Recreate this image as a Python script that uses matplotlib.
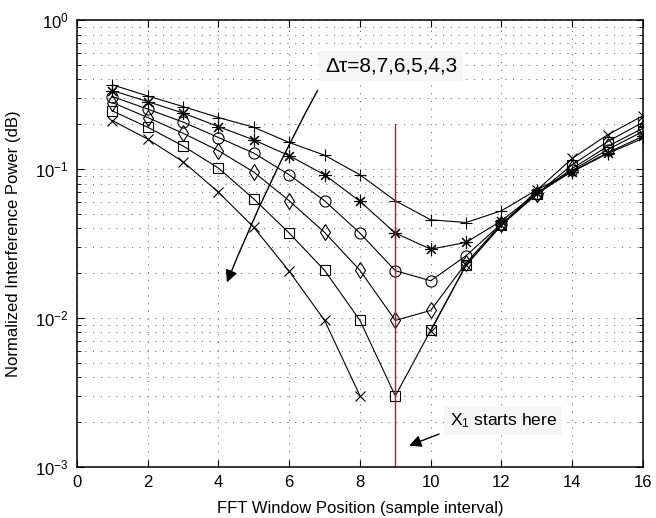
import numpy as np
import matplotlib
matplotlib.use("Agg")
import matplotlib.pyplot as plt

plt.rcParams['font.family'] = ['Liberation Sans', 'DejaVu Sans']
plt.rcParams['mathtext.default'] = 'regular'

# FFT window positions
pos = np.arange(1, 17)

# normalized interference power, one list per delta tau
p_dt8 = [0.368, 0.31, 0.263, 0.222, 0.191, 0.151, 0.124, 0.0916, 0.0613, 0.0457,
         0.0438, 0.0525, 0.0726, 0.096, 0.127, 0.161]
p_dt7 = [0.337, 0.284, 0.238, 0.193, 0.157, 0.123, 0.0916, 0.0608, 0.0372, 0.029,
         0.0322, 0.045, 0.069, 0.0963, 0.129, 0.166]
p_dt6 = [0.307, 0.253, 0.207, 0.163, 0.128, 0.0916, 0.0613, 0.0372, 0.0208, 0.0178,
         0.0262, 0.043, 0.068, 0.098, 0.135, 0.179]
p_dt5 = [0.280, 0.222, 0.174, 0.133, 0.0955, 0.0613, 0.0376, 0.0209, 0.00964, 0.01125,
         0.0234, 0.043, 0.068, 0.101, 0.142, 0.188]
p_dt4 = [0.246, 0.191, 0.143, 0.1016, 0.063, 0.0372, 0.0209, 0.00964, 0.0030, 0.00826,
         0.0228, 0.042, 0.068, 0.107, 0.153, 0.206]
p_dt3 = [0.212, 0.159, 0.112, 0.070, 0.0406, 0.0206, 0.00964, 0.00301, np.nan, 0.0082,
         0.0226, 0.042, 0.072, 0.118, 0.17, 0.228]

series = [p_dt8, p_dt7, p_dt6, p_dt5, p_dt4, p_dt3]
markers = ['+', (8, 2, 0), 'o', 'd', 's', 'x']
msizes = [9, 9, 8, 8, 7, 7]

# red marker line: X1 start position
x1_pos = 9
x1_span = [0.001, 0.2]

fig = plt.figure(figsize=(6.56, 5.18), dpi=100)
ax = fig.add_axes([0.1174, 0.0985, 0.8626, 0.8625])

for vals, m, ms in zip(series, markers, msizes):
    ax.plot(pos, vals, color='k', linewidth=0.8, marker=m, markersize=ms,
            markerfacecolor='none', markeredgecolor='k', markeredgewidth=0.8)

ax.plot([x1_pos, x1_pos], x1_span, color='red', linewidth=1.0)

ax.set_yscale('log')
ax.set_xlim(0, 16)
ax.set_ylim(1e-3, 1)
ax.set_xticks(np.arange(0, 17, 2))

ax.grid(True, which='major', axis='both', color='0.35', linestyle=(0, (1, 7)), linewidth=0.7)
ax.grid(True, which='minor', axis='y', color='0.35', linestyle=(0, (1, 7)), linewidth=0.7)
ax.tick_params(which='both', direction='in', top=True, right=True, labelsize=12)
ax.tick_params(which='major', length=5, pad=6)
ax.tick_params(which='minor', length=3)
for s in ax.spines.values():
    s.set_linewidth(1.1)

ax.set_xlabel('FFT Window Position (sample interval)', fontsize=12, labelpad=8)
ax.set_ylabel('Normalized Interference Power (dB)', fontsize=12, labelpad=10)

# delta tau annotation
ax.text(8.88, 0.49, '\u0394\u03c4=8,7,6,5,4,3', fontsize=15, ha='center', va='center',
        bbox=dict(facecolor='0.965', edgecolor='none', pad=4))
ax.annotate('', xy=(4.21, 0.0167), xytext=(6.84, 0.351),
            arrowprops=dict(arrowstyle='-|>', color='k', lw=1.0,
                            mutation_scale=18, connectionstyle='arc3,rad=0.03'))

# X1 annotation
ax.text(12.05, 0.00205, '$X_1$ starts here', fontsize=12.5, ha='center', va='center',
        bbox=dict(facecolor='0.965', edgecolor='none', pad=4))
ax.annotate('', xy=(9.32, 0.00137), xytext=(10.31, 0.00169),
            arrowprops=dict(arrowstyle='-|>', color='k', lw=1.0, mutation_scale=18))

fig.savefig('out.png', dpi=100)
